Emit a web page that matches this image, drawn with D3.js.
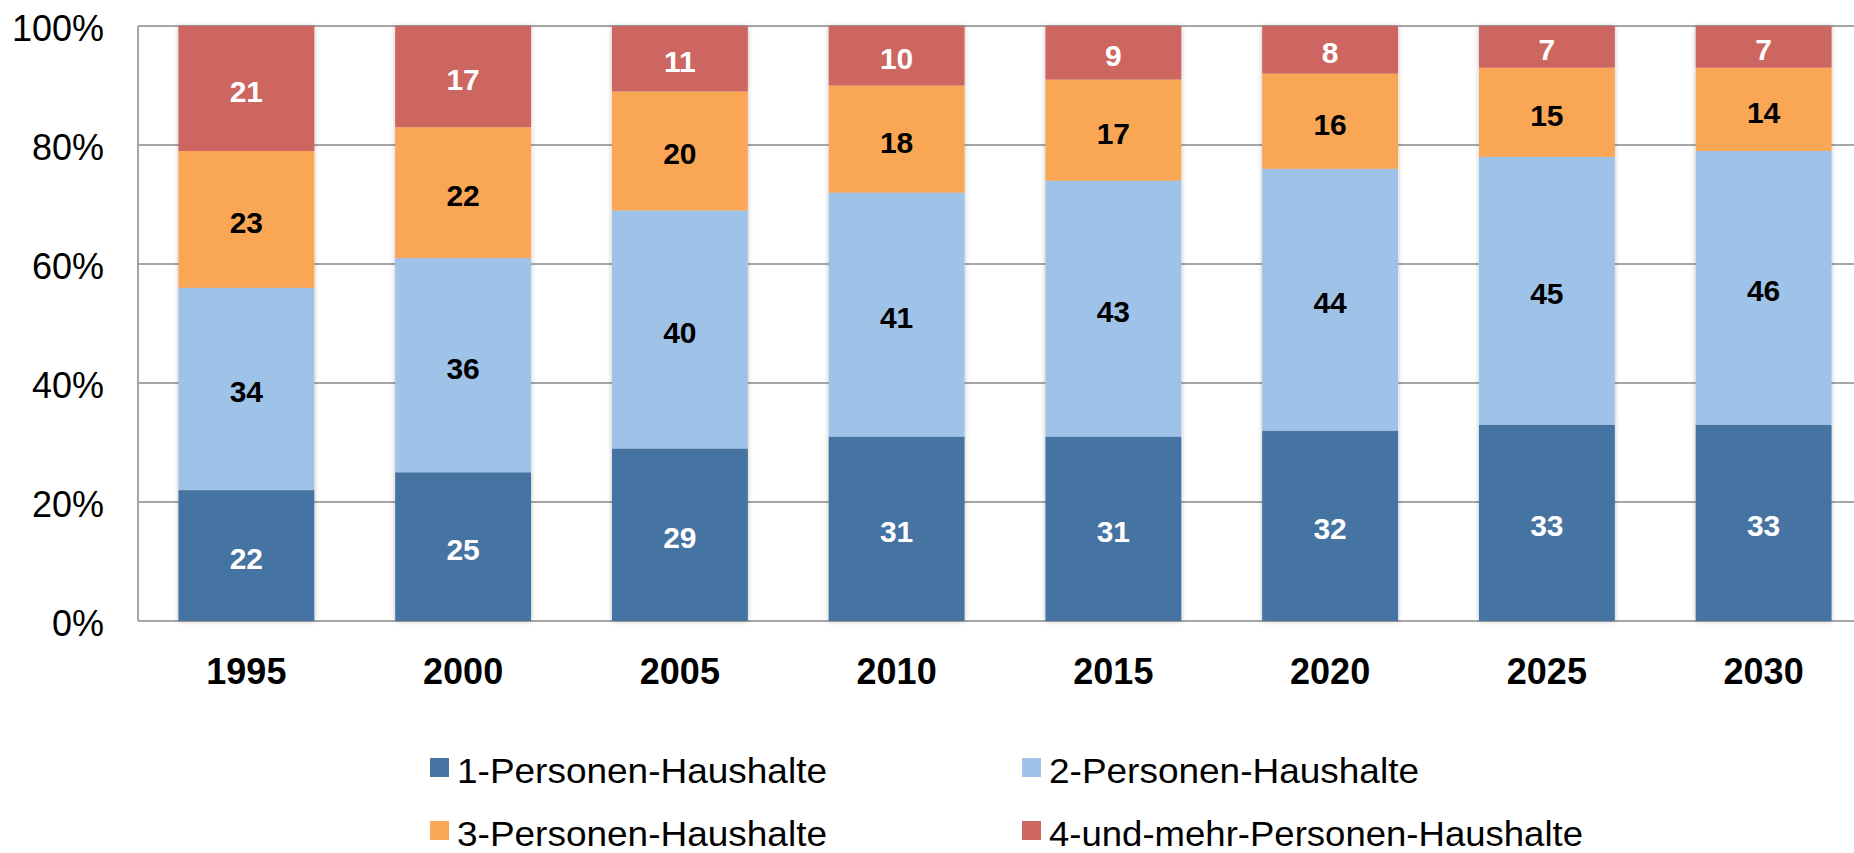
<!DOCTYPE html>
<html>
<head>
<meta charset="utf-8">
<script src="https://cdn.jsdelivr.net/npm/d3@7"></script>
<style>
  html, body { margin: 0; padding: 0; background: #fff; }
  svg { display: block; font-family: "Liberation Sans", Arial, sans-serif; }
</style>
</head>
<body>
<svg id="chart"></svg>
<script>
// data
const years = ['1995', '2000', '2005', '2010', '2015', '2020', '2025', '2030'];
const p1 = [22, 25, 29, 31, 31, 32, 33, 33];
const p2 = [34, 36, 40, 41, 43, 44, 45, 46];
const p3 = [23, 22, 20, 18, 17, 16, 15, 14];
const p4 = [21, 17, 11, 10, 9, 8, 7, 7];
const seriesNames = ['1-Personen-Haushalte', '2-Personen-Haushalte', '3-Personen-Haushalte', '4-und-mehr-Personen-Haushalte'];
const yTicks = [0, 20, 40, 60, 80, 100];

const colors = ['#4573a2', '#9ec2e8', '#f9a655', '#cd6560'];
const labelColors = ['#fff', '#000', '#000', '#fff'];

const W = 1854, H = 853;
const plotL = 138, plotT = 26, plotB = 621, plotR = 1872;

const svg = d3.select('#chart').attr('width', W).attr('height', H);

const defs = svg.append('defs');
defs.append('filter').attr('id', 'shadow')
  .attr('x', -0.1).attr('y', -0.05).attr('width', 1.2).attr('height', 1.1)
  .append('feDropShadow')
  .attr('dx', 0).attr('dy', 0).attr('stdDeviation', 2.5)
  .attr('flood-color', '#000').attr('flood-opacity', 0.25);

const table = years.map((y, i) => ({year: y, s0: p1[i], s1: p2[i], s2: p3[i], s3: p4[i]}));
const keys = ['s0', 's1', 's2', 's3'];
const stacked = d3.stack().keys(keys)(table);

const x = d3.scaleBand().domain(years).range([plotL, plotR]).paddingInner(0.373).paddingOuter(0.1865);
const y = d3.scaleLinear().domain([0, 100]).range([plotB, plotT]);

// grid lines
svg.append('g').selectAll('line')
  .data(yTicks)
  .join('line')
  .attr('x1', plotL).attr('x2', W)
  .attr('y1', d => y(d)).attr('y2', d => y(d))
  .attr('stroke', '#a6a6a6').attr('stroke-width', 2);

// left axis line
svg.append('line')
  .attr('x1', plotL).attr('x2', plotL).attr('y1', plotT).attr('y2', plotB)
  .attr('stroke', '#a6a6a6').attr('stroke-width', 2);

// y tick labels
svg.append('g').selectAll('text')
  .data(yTicks)
  .join('text')
  .attr('x', 104).attr('y', d => y(d) + 2)
  .attr('dy', '0.35em')
  .attr('text-anchor', 'end')
  .attr('font-size', 36)
  .attr('fill', '#000')
  .text(d => d + '%');

// bars
const barG = svg.append('g');
years.forEach((yr, j) => {
  const g = barG.append('g').attr('filter', 'url(#shadow)');
  stacked.forEach((s, i) => {
    const d = s[j];
    g.append('rect')
      .attr('x', x(yr))
      .attr('width', x.bandwidth())
      .attr('y', y(d[1]))
      .attr('height', y(d[0]) - y(d[1]))
      .attr('fill', colors[i]);
  });
});

// value labels
stacked.forEach((s, i) => {
  svg.append('g').selectAll('text')
    .data(s)
    .join('text')
    .attr('x', d => x(d.data.year) + x.bandwidth() / 2)
    .attr('y', d => y((d[0] + d[1]) / 2) + 3)
    .attr('dy', '0.35em')
    .attr('text-anchor', 'middle')
    .attr('font-size', 30)
    .attr('font-weight', 'bold')
    .attr('fill', labelColors[i])
    .text(d => d[1] - d[0]);
});

// year labels
svg.append('g').selectAll('text')
  .data(years)
  .join('text')
  .attr('x', d => x(d) + x.bandwidth() / 2)
  .attr('y', 684)
  .attr('text-anchor', 'middle')
  .attr('font-size', 36)
  .attr('font-weight', 'bold')
  .text(d => d);

// legend
const legendPos = [[430, 783], [1022, 783], [430, 846], [1022, 846]];
const legend = svg.append('g').selectAll('g')
  .data(seriesNames)
  .join('g')
  .attr('transform', (d, i) => `translate(${legendPos[i][0]},${legendPos[i][1]})`);
legend.append('rect')
  .attr('x', 0).attr('y', -25).attr('width', 19).attr('height', 19)
  .attr('fill', (d, i) => colors[i]);
legend.append('text')
  .attr('x', 27).attr('y', 0)
  .attr('font-size', 35)
  .attr('textLength', (d, i) => i === 3 ? 534 : 370)
  .attr('lengthAdjust', 'spacingAndGlyphs')
  .text(d => d);
</script>
</body>
</html>
